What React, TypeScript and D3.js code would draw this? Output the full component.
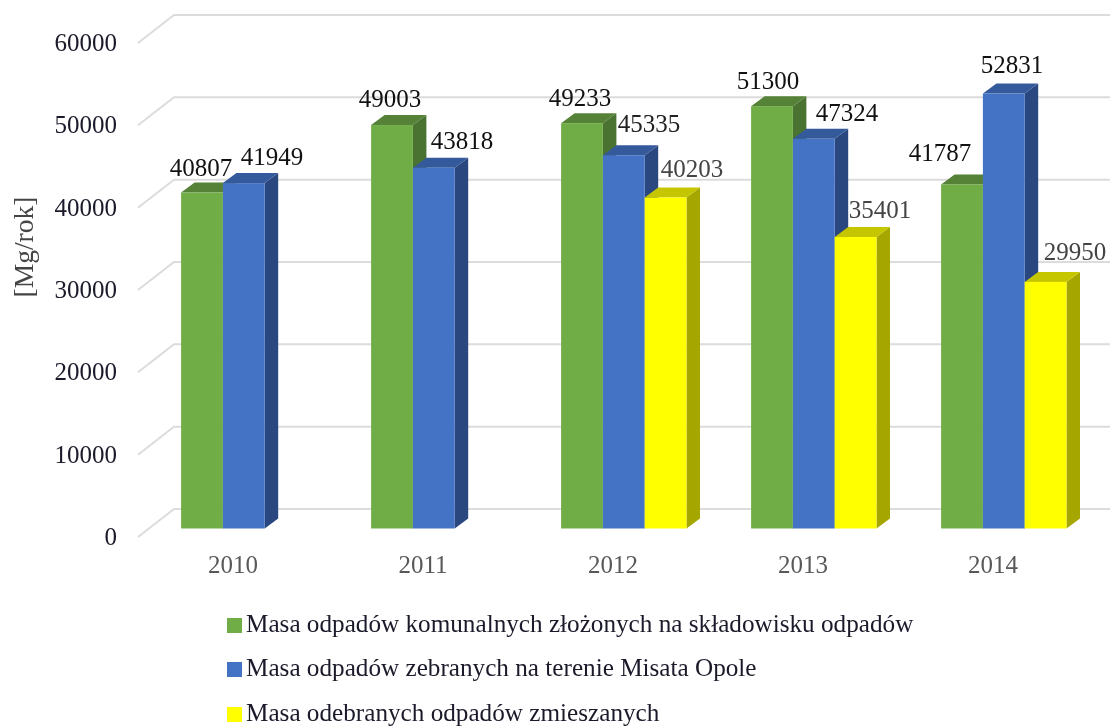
import React from "react";
import * as d3 from "d3";

const years = ["2010", "2011", "2012", "2013", "2014"];
const greenValues = [40807, 49003, 49233, 51300, 41787];
const blueValues = [41949, 43818, 45335, 47324, 52831];
const yellowValues: (number | null)[] = [null, null, 40203, 35401, 29950];
const yTicks = [0, 10000, 20000, 30000, 40000, 50000, 60000];
const seriesNames = [
  "Masa odpadów komunalnych złożonych na składowisku odpadów",
  "Masa odpadów zebranych na terenie Misata Opole",
  "Masa odebranych odpadów zmieszanych",
];

const FONT = "'Liberation Serif', 'Times New Roman', serif";
const styles = [
  { front: "#70AD47", top: "#558236", side: "#4A7230" },
  { front: "#4472C4", top: "#355A9B", side: "#2B4780" },
  { front: "#FFFF00", top: "#C6C600", side: "#A6A600" },
];
// hand placed data label anchors [centre x, baseline y, fill], per series and year
const labelAnchors: ([number, number, string] | null)[][] = [
  [[201, 176, "#111"], [390, 107, "#111"], [580, 106, "#111"], [768, 89, "#111"], [940, 161, "#111"]],
  [[272, 165, "#111"], [462, 149, "#111"], [649, 132, "#222"], [847, 121, "#111"], [1012, 73, "#111"]],
  [null, null, [692, 177, "#444"], [880, 218, "#444"], [1075, 260, "#444"]],
];

const x = d3.scaleBand<string>().domain(years).range([138, 1088]);
const y = d3.scaleLinear().domain([0, 60000]).range([528.5, 34.5]);
const barW = 41.8;
const depthX = 13.5;
const depthY = 10;
const floorDX = 36;
const floorDY = 28;
const planeDX = 11.6; // front plane -> bar plane
const planeDY = 8.5;

export default function App() {
  const series = [greenValues, blueValues, yellowValues];
  return (
    <svg
      width={1110}
      height={726}
      style={{ position: "absolute", left: 0, top: 0, filter: "blur(0.4px)" }}
      fontFamily={FONT}
    >
      <rect width={1110} height={726} fill="#fff" />
      {yTicks.map((t) => {
        const yy = y(t) + planeDY;
        return (
          <g key={t}>
            <polyline
              points={`138,${yy} ${138 + floorDX},${yy - floorDY} 1110,${yy - floorDY}`}
              fill="none"
              stroke="#dcdcdc"
              strokeWidth={2}
            />
            <text x={117} y={yy + 8} textAnchor="end" fontSize={25} fill="#1a1a2a">
              {t}
            </text>
          </g>
        );
      })}
      {years.map((yr, i) => {
        const gx = x(yr)! + x.step() / 2 + planeDX - 63.5;
        return (
          <g key={yr}>
            {series.map((vals, s) => {
              const v = vals[i];
              if (v == null) return null;
              const x0 = gx + s * barW;
              const x1 = x0 + barW;
              const yt = y(v);
              const yb = y(0);
              const st = styles[s];
              return (
                <g key={s}>
                  <path
                    d={`M${x1},${yt}L${x1 + depthX},${yt - depthY}L${x1 + depthX},${yb - depthY}L${x1},${yb}Z`}
                    fill={st.side}
                  />
                  <path
                    d={`M${x0},${yt}L${x0 + depthX},${yt - depthY}L${x1 + depthX},${yt - depthY}L${x1},${yt}Z`}
                    fill={st.top}
                  />
                  <rect x={x0} y={yt} width={barW} height={yb - yt} fill={st.front} />
                </g>
              );
            })}
          </g>
        );
      })}
      {series.map((vals, s) =>
        vals.map((v, i) => {
          const a = labelAnchors[s][i];
          if (v == null || !a) return null;
          return (
            <text key={`${s}-${i}`} x={a[0]} y={a[1]} textAnchor="middle" fontSize={25} fill={a[2]}>
              {v}
            </text>
          );
        })
      )}
      {years.map((yr) => (
        <text
          key={yr}
          x={x(yr)! + x.step() / 2}
          y={573}
          textAnchor="middle"
          fontSize={25}
          fill="#595959"
        >
          {yr}
        </text>
      ))}
      <text
        transform="translate(33,247) rotate(-90)"
        textAnchor="middle"
        fontSize={27.5}
        fill="#444"
      >
        [Mg/rok]
      </text>
      {seriesNames.map((n, i) => {
        const ly = [618, 662, 707][i];
        return (
          <g key={n}>
            <rect x={227} y={ly} width={15} height={15} fill={styles[i].front} />
            <text x={246} y={ly + 14} fontSize={25.2} fill="#1a1a2a">
              {n}
            </text>
          </g>
        );
      })}
    </svg>
  );
}
